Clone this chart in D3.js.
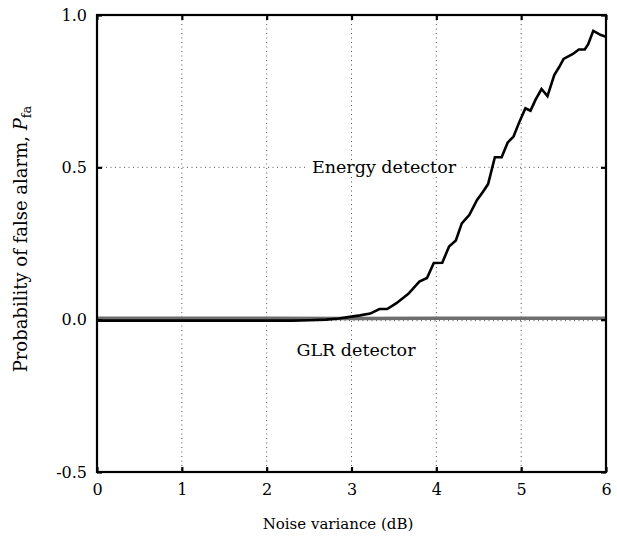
<!DOCTYPE html>
<html>
<head>
<meta charset="utf-8">
<script src="https://cdn.jsdelivr.net/npm/d3@7"></script>
<style>
  html, body { margin: 0; padding: 0; background: #fff; }
  svg { display: block; }
  svg text { font-family: "DejaVu Serif", serif !important; fill: #000; }
</style>
</head>
<body>
<svg id="chart" width="617" height="541"></svg>
<script>
// ---- data ----
const xTicks = [0, 1, 2, 3, 4, 5, 6];
const yTicks = [-0.5, 0.0, 0.5, 1.0];
const yTickLabels = ["-0.5", "0.0", "0.5", "1.0"];
const xGrid = [1, 2, 3, 4, 5];
const yGrid = [0.0, 0.5];

const energyX = [0, 0.5, 1, 1.5, 2, 2.3, 2.5, 2.7, 2.85, 3.0, 3.1, 3.22, 3.33, 3.42, 3.53, 3.67, 3.80, 3.89, 3.97, 4.07,
  4.15, 4.23, 4.30, 4.39, 4.48, 4.55, 4.61, 4.69, 4.77, 4.84, 4.91, 4.98, 5.05, 5.11, 5.17, 5.24, 5.31, 5.39, 5.45, 5.50,
  5.61, 5.68, 5.75, 5.79, 5.85, 5.94, 6.0];
const energyY = [-0.003, -0.003, -0.003, -0.003, -0.003, -0.003, -0.002, 0.000, 0.004, 0.010, 0.014, 0.020, 0.035, 0.035, 0.054, 0.085, 0.125, 0.137, 0.186, 0.187,
  0.240, 0.260, 0.316, 0.344, 0.393, 0.420, 0.445, 0.533, 0.533, 0.581, 0.601, 0.650, 0.694, 0.686, 0.722, 0.757, 0.734, 0.803, 0.830, 0.856,
  0.872, 0.887, 0.887, 0.904, 0.948, 0.934, 0.929];

const glrX = [0, 1, 2, 3, 4, 5, 6];
const glrY = [0.005, 0.005, 0.005, 0.004, 0.005, 0.005, 0.005];

// ---- layout ----
const svg = d3.select("#chart");
const L = 97, R = 606, T = 15, B = 472;
const x = d3.scaleLinear().domain([0, 6]).range([L, R]);
const y = d3.scaleLinear().domain([-0.5, 1.0]).range([B, T]);
const FONT = "'DejaVu Serif', serif";

// gridlines
svg.append("g").selectAll("line").data(xGrid).join("line")
  .attr("x1", d => x(d)).attr("x2", d => x(d))
  .attr("y1", T).attr("y2", B)
  .attr("stroke", "#555").attr("stroke-width", 1).attr("stroke-dasharray", "1,3.5");
svg.append("g").selectAll("line").data(yGrid).join("line")
  .attr("x1", L).attr("x2", R)
  .attr("y1", d => y(d) + (d === 0 ? 1 : 0)).attr("y2", d => y(d) + (d === 0 ? 1 : 0))
  .attr("stroke", "#555").attr("stroke-width", 1).attr("stroke-dasharray", "1,3.5");

// lines
const line = d3.line().x(d => x(d[0])).y(d => y(d[1]));
svg.append("path")
  .datum(glrX.map((v, i) => [v, glrY[i]]))
  .attr("d", line).attr("fill", "none")
  .attr("stroke", "#6e6e6e").attr("stroke-width", 3.5);
svg.append("path")
  .datum(energyX.map((v, i) => [v, energyY[i]]))
  .attr("d", line).attr("fill", "none")
  .attr("stroke", "#000").attr("stroke-width", 2.6).attr("stroke-linejoin", "miter");

// labels in plot (white background)
function plotLabel(txt, cx, cy) {
  const g = svg.append("g");
  const t = g.append("text").attr("x", cx).attr("y", cy)
    .attr("text-anchor", "middle").attr("dominant-baseline", "central")
    .attr("font-family", FONT).style("font-size", "17.5px").text(txt);
  const bb = t.node().getBBox();
  g.insert("rect", "text").attr("x", bb.x - 5).attr("y", bb.y + 3)
    .attr("width", bb.width + 10).attr("height", bb.height - 6).attr("fill", "#fff");
}
plotLabel("Energy detector", 384, y(0.5));
plotLabel("GLR detector", 356, y(-0.1));

// frame
svg.append("rect").attr("x", L).attr("y", T).attr("width", R - L).attr("height", B - T)
  .attr("fill", "none").attr("stroke", "#000").attr("stroke-width", 2.2);

// axes (inward ticks)
const xAxisB = d3.axisBottom(x).tickValues(xTicks).tickSize(-5).tickPadding(12).tickFormat(d3.format("d"));
const gxb = svg.append("g").attr("transform", `translate(0,${B})`).call(xAxisB);
const xAxisT = d3.axisTop(x).tickValues(xTicks).tickSize(-5).tickFormat("");
const gxt = svg.append("g").attr("transform", `translate(0,${T})`).call(xAxisT);
const yAxisL = d3.axisLeft(y).tickValues(yTicks).tickSize(-5).tickPadding(10).tickFormat((d, i) => yTickLabels[i]);
const gyl = svg.append("g").attr("transform", `translate(${L},0)`).call(yAxisL);
const yAxisR = d3.axisRight(y).tickValues(yTicks).tickSize(-5).tickFormat("");
const gyr = svg.append("g").attr("transform", `translate(${R},0)`).call(yAxisR);
[gxb, gxt, gyl, gyr].forEach(g => {
  g.attr("font-family", FONT);
  g.select(".domain").remove();
  g.selectAll(".tick line").attr("stroke", "#000").attr("stroke-width", 2.2);
  g.selectAll(".tick text").style("font-size", "16px");
});

// axis titles
svg.append("text").attr("x", 338).attr("y", 529).attr("text-anchor", "middle")
  .attr("font-family", FONT).style("font-size", "15px").text("Noise variance (dB)");
const yl = svg.append("text").attr("transform", "translate(27,239) rotate(-90)")
  .attr("font-family", FONT).attr("text-anchor", "middle").style("font-size", "18px");
yl.append("tspan").text("Probability of false alarm, ");
yl.append("tspan").style("font-style", "italic").text("P");
yl.append("tspan").attr("dy", 4).style("font-size", "13px").text("fa");
</script>
</body>
</html>
